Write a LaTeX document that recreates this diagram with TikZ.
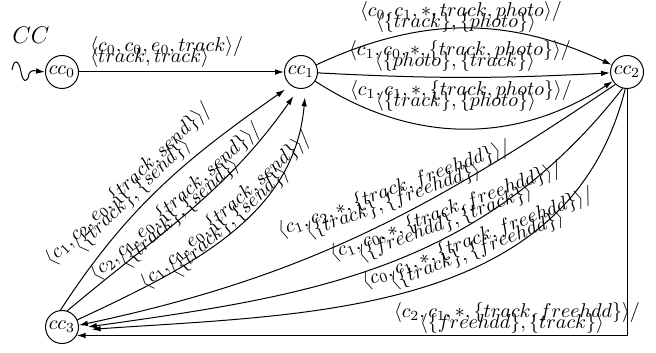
\documentclass[tikz,border=0pt]{standalone}
\usetikzlibrary{arrows.meta}
\newcommand\lblC[2]{\vbox{\offinterlineskip\halign{\hfil##\hfil\cr
  \vrule height 7.5pt depth 0pt width 0pt\smash{#1}\cr
  \vrule height 5.5pt depth 2.5pt width 0pt\smash{#2}\cr}}}
\newcommand\lblL[2]{\vbox{\offinterlineskip\halign{##\hfil\cr
  \vrule height 7.5pt depth 0pt width 0pt\smash{#1}\cr
  \vrule height 5.5pt depth 2.5pt width 0pt\smash{#2}\cr}}}
\newcommand\slsh{\rlap{$/$}}
\tikzset{
  st/.style={circle, draw, line width=0.5pt, minimum size=16.5pt, inner sep=0pt},
  lab/.style={inner sep=0pt, anchor=base},
  arr/.style={line width=0.5pt, -{Latex[length=4.5pt,width=2.8pt]}},
}
\begin{document}
\begin{tikzpicture}[x=0.5pt,y=0.5pt]
\useasboundingbox (0,0) rectangle (656,352);
% states
\node[st] (cc0) at (62,280) {$cc_0$};
\node[st] (cc1) at (301,280) {$cc_1$};
\node[st] (cc2) at (627,280) {$cc_2$};
\node[st] (cc3) at (62,25) {$cc_3$};
\node (title) at (31,317) {\large $CC$};
% initial squiggle
\coordinate (s0) at (12,282);
\draw[arr] (s0) .. controls (14,294) and (19,292) .. (21,280)
  .. controls (23,268) and (28,270) .. (29,278)
  .. controls (31,283) and (36,281) .. (cc0.west);
% cc0 -> cc1
\draw[arr] (cc0) -- (cc1);
\node[lab, anchor=base west] (l01) at (90,289)
  {\lblL{$\langle c_0, c_0, e_0, track\rangle$\slsh}{$\langle track, track\rangle$}};
% cc1 -> cc2
\draw[arr] (cc1) to[bend left=25] (cc2);
\draw[arr] (cc1) to[bend right=3] (cc2);
\draw[arr] (cc1) to[bend right=33] (cc2);
\node[lab] (lt) at (456,324)
  {\lblC{$\langle c_0, c_1, *, track, photo\rangle$\slsh}{$\langle\{track\}, \{photo\}\rangle$}};
\node[lab] (lm) at (455,285)
  {\lblC{$\langle c_1, c_0, *, \{track, photo\}\rangle$\slsh}{$\langle\{photo\}, \{track\}\rangle$}};
\node[lab] (lb) at (456,245)
  {\lblC{$\langle c_1, c_1, *, \{track, photo\}\rangle$\slsh}{$\langle\{track\}, \{photo\}\rangle$}};
% cc3 -> cc1
\draw[arr, shorten >=3.5pt] (cc3.95) to[out=57,in=-145] (cc1.-127);
\draw[arr, shorten >=4.5pt] (cc3.72) to[out=40,in=-125] (cc1.-98);
\draw[arr, shorten >=4.5pt] (cc3.25) to[out=25,in=-95] (cc1.-74);
\node[lab, rotate=44] (la) at (136,153)
  {\lblC{$\langle c_1, c_2, e_0, \{track, send\}\rangle$\slsh}{$\langle\{track\}, \{send\}\rangle$}};
\node[lab, rotate=42] (lbb) at (183,135)
  {\lblC{$\langle c_2, c_1, e_0, \{track, send\}\rangle$\slsh}{$\langle\{track\}, \{send\}\rangle$}};
\node[lab, rotate=42] (lc) at (233,126)
  {\lblC{$\langle c_1, c_1, e_0, \{track, send\}\rangle$\slsh}{$\langle\{track\}, \{send\}\rangle$}};
% cc2 -> cc3
\draw[arr] (cc2.-133) to[out=-146,in=12] (cc3.6);
\draw[arr, shorten >=4.5pt] (cc2.-105) to[out=-128,in=8] (cc3.-4);
\draw[arr, shorten >=6.5pt] (cc2.-96) to[out=-104,in=4] (cc3.-11);
\draw[arr] (cc2.south) |- (cc3.-30);
\node[lab, rotate=20] (le1) at (395,146)
  {\lblC{$\langle c_1, c_2, *, \{track, freehdd\}\rangle$\slsh}{$\langle\{track\}, \{freehdd\}\rangle$}};
\node[lab, rotate=20.5] (le2) at (447,124)
  {\lblC{$\langle c_1, c_0, *, \{track, freehdd\}\rangle$\slsh}{$\langle\{freehdd\}, \{track\}\rangle$}};
\node[lab, rotate=21] (le3) at (479,97)
  {\lblC{$\langle c_0, c_1, *, \{track, freehdd\}\rangle$\slsh}{$\langle\{track\}, \{freehdd\}\rangle$}};
\node[lab] (le4) at (512,24)
  {\lblC{$\langle c_2, c_1, *, \{track, freehdd\}\rangle$\slsh}{$\langle\{freehdd\}, \{track\}\rangle$}};
\end{tikzpicture}
\end{document}
